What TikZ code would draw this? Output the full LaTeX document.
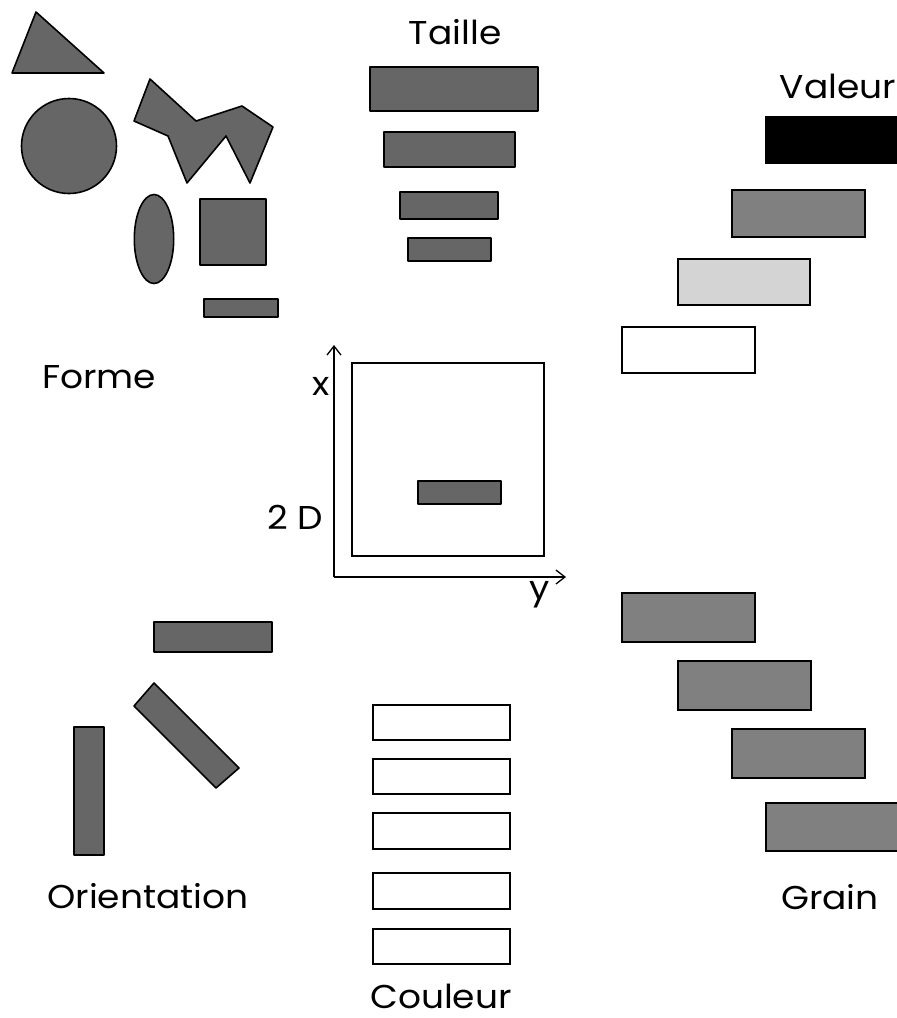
\documentclass[tikz,border=0pt]{standalone}
\usepackage{fontspec}
\setmainfont{Poppins}
\usetikzlibrary{arrows.meta}
\definecolor{dgray}{HTML}{666666}
\definecolor{mgray}{HTML}{808080}
\definecolor{lgray}{HTML}{D4D4D4}
\newcommand{\wide}[1]{\scalebox{1.09}[1]{#1}}
\tikzset{
  shp/.style={draw=black, line width=1.6pt, fill=dgray, line join=round},
  grainbox/.style={draw=black, line width=1.6pt, fill=mgray},
  whitebox/.style={draw=black, line width=1.3pt, fill=white},
  lbl/.style={font=\fontsize{33}{36}\selectfont, inner sep=0pt, anchor=base},
  axis/.style={line width=1.3pt, -{Straight Barb[length=9pt,width=14pt,line width=1.3pt]}}
}
\begin{document}
\begin{tikzpicture}[x=1pt,y=-1pt]
\useasboundingbox (0,0) rectangle (897,1018);
% Forme
\draw[shp] (36,12) -- (12,73) -- (104,73) -- cycle;
\draw[shp] (69,146) circle (47.5);
\draw[shp] (150,79) -- (196,121) -- (242,106) -- (273,127) -- (250,183) -- (226,136) -- (187,183) -- (168,136) -- (134,121) -- cycle;
\draw[shp] (154,239) ellipse [x radius=19.7, y radius=44.5];
\draw[shp] (200,199) rectangle (266,265);
\draw[shp] (204,299) rectangle (278,317);
\node[lbl] (forme) at (99,388) {\wide{Forme}};
% Taille
\node[lbl] (taille) at (455,44) {\wide{Taille}};
\draw[shp] (370,67) rectangle (538,111);
\draw[shp] (384,132) rectangle (515,167);
\draw[shp] (400,192) rectangle (498,219);
\draw[shp] (408,238) rectangle (491,261);
% Valeur
\node[lbl] (valeur) at (838,98) {\wide{Valeur}};
\draw[draw=black, line width=1.6pt, fill=black] (766,117) rectangle (898,163);
\draw[grainbox] (732,190) rectangle (865,237);
\draw[draw=black, line width=1.6pt, fill=lgray] (678,259) rectangle (810,305);
\draw[draw=black, line width=1.6pt, fill=white] (622,327) rectangle (755,373);
% 2D
\coordinate (origin) at (334,577);
\coordinate (xend) at (334,345);
\coordinate (yend) at (566,577);
\draw[axis] (origin) -- (xend);
\draw[axis] (origin) -- (yend);
\draw[line width=1.2pt] (352,363) rectangle (544,556);
\draw[shp] (418,481) rectangle (501,504);
\node[lbl] (xl) at (321,395) {\wide{x}};
\node[lbl] (yl) at (540,599) {\wide{y}};
\node[lbl] (dd) at (295,529) {\wide{2 D}};
% Orientation
\draw[shp] (154,622) rectangle (272,652);
\draw[shp] (154,683) -- (134,706) -- (216,788) -- (239,768) -- cycle;
\draw[shp] (74,727) rectangle (104,855);
\node[lbl] (orient) at (148,908) {\wide{Orientation}};
% Couleur
\draw[whitebox] (373,705) rectangle (510,740);
\draw[whitebox] (373,759) rectangle (510,794);
\draw[whitebox] (373,813) rectangle (510,849);
\draw[whitebox] (373,873) rectangle (510,909);
\draw[whitebox] (373,929) rectangle (510,964);
\node[lbl] (couleur) at (441,1008) {\wide{Couleur}};
% Grain
\draw[grainbox] (622,593) rectangle (755,642);
\draw[grainbox] (678,661) rectangle (811,710);
\draw[grainbox] (732,729) rectangle (865,778);
\draw[grainbox] (766,803) rectangle (899,851);
\node[lbl] (grain) at (830,909) {\wide{Grain}};
\end{tikzpicture}
\end{document}
